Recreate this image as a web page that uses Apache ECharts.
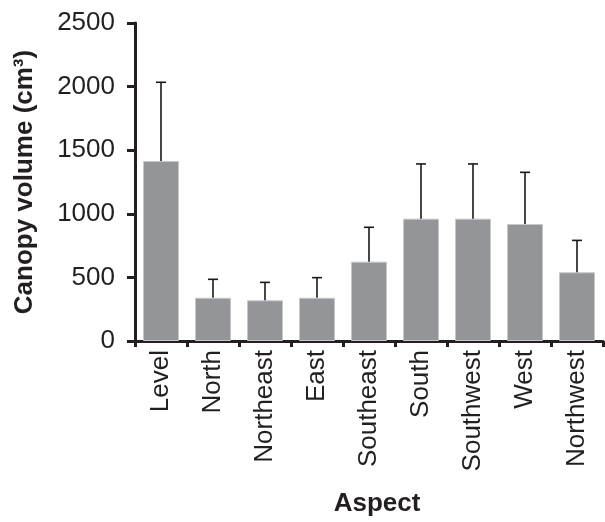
<!DOCTYPE html>
<html>
<head>
<meta charset="utf-8">
<script src="https://cdn.jsdelivr.net/npm/echarts@6/dist/echarts.min.js"></script>
<style>html,body{margin:0;padding:0;background:#fff}#c{width:605px;height:522px}</style>
</head>
<body>
<div id="c"></div>
<script>
var categories = ["Level","North","Northeast","East","Southeast","South","Southwest","West","Northwest"];
var meanVolume = [1415, 340, 320, 340, 624, 962, 962, 920, 540];
var upperError = [2034, 485, 461, 498, 894, 1392, 1392, 1326, 791];
var yTicks = [0, 500, 1000, 1500, 2000, 2500];

var font = '"Liberation Sans", Arial, Helvetica, sans-serif';
var ink = '#231f20';
var errData = categories.map(function (c, i) { return [i, meanVolume[i], upperError[i]]; });

var chart = echarts.init(document.getElementById('c'));
chart.setOption({
  animation: false,
  backgroundColor: '#fff',
  grid: { left: 135, right: 2, top: 23, bottom: 181, containLabel: false },
  xAxis: {
    type: 'category',
    data: categories,
    name: 'Aspect',
    nameLocation: 'middle',
    nameGap: 150,
    nameTextStyle: { fontFamily: font, fontSize: 26, fontWeight: 'bold', color: ink, padding: [0, 0, 0, 16] },
    axisLine: { lineStyle: { color: ink, width: 3 } },
    axisTick: { show: true, alignWithLabel: false, length: 6, lineStyle: { color: ink, width: 3 } },
    axisLabel: { rotate: 90, margin: 9, fontFamily: font, fontSize: 26, color: ink, interval: 0 }
  },
  yAxis: {
    type: 'value',
    min: yTicks[0],
    max: yTicks[yTicks.length - 1],
    interval: 500,
    name: 'Canopy volume (cm³)',
    nameLocation: 'middle',
    nameGap: 97,
    nameTextStyle: { fontFamily: font, fontSize: 26, fontWeight: 'bold', color: ink },
    splitLine: { show: false },
    axisLine: { show: true, lineStyle: { color: ink, width: 3 } },
    axisTick: { show: true, length: 8, lineStyle: { color: ink, width: 3 } },
    axisLabel: { margin: 20, fontFamily: font, fontSize: 26, color: ink, formatter: function (v) { return String(v); } }
  },
  series: [
    {
      type: 'bar',
      data: meanVolume,
      barWidth: 36,
      itemStyle: { color: '#939598', borderColor: '#c6c7c9', borderWidth: 1 },
      z: 2
    },
    {
      type: 'custom',
      data: errData,
      z: 3,
      renderItem: function (params, api) {
        var i = api.value(0);
        var p0 = api.coord([i, api.value(1)]);
        var p1 = api.coord([i, api.value(2)]);
        var half = 5;
        var st = { stroke: '#1a1a1a', lineWidth: 1.6 };
        return {
          type: 'group',
          children: [
            { type: 'line', shape: { x1: p0[0], y1: p0[1], x2: p1[0], y2: p1[1] }, style: st },
            { type: 'line', shape: { x1: p1[0] - half, y1: p1[1], x2: p1[0] + half, y2: p1[1] }, style: st }
          ]
        };
      }
    }
  ]
});
</script>
</body>
</html>
